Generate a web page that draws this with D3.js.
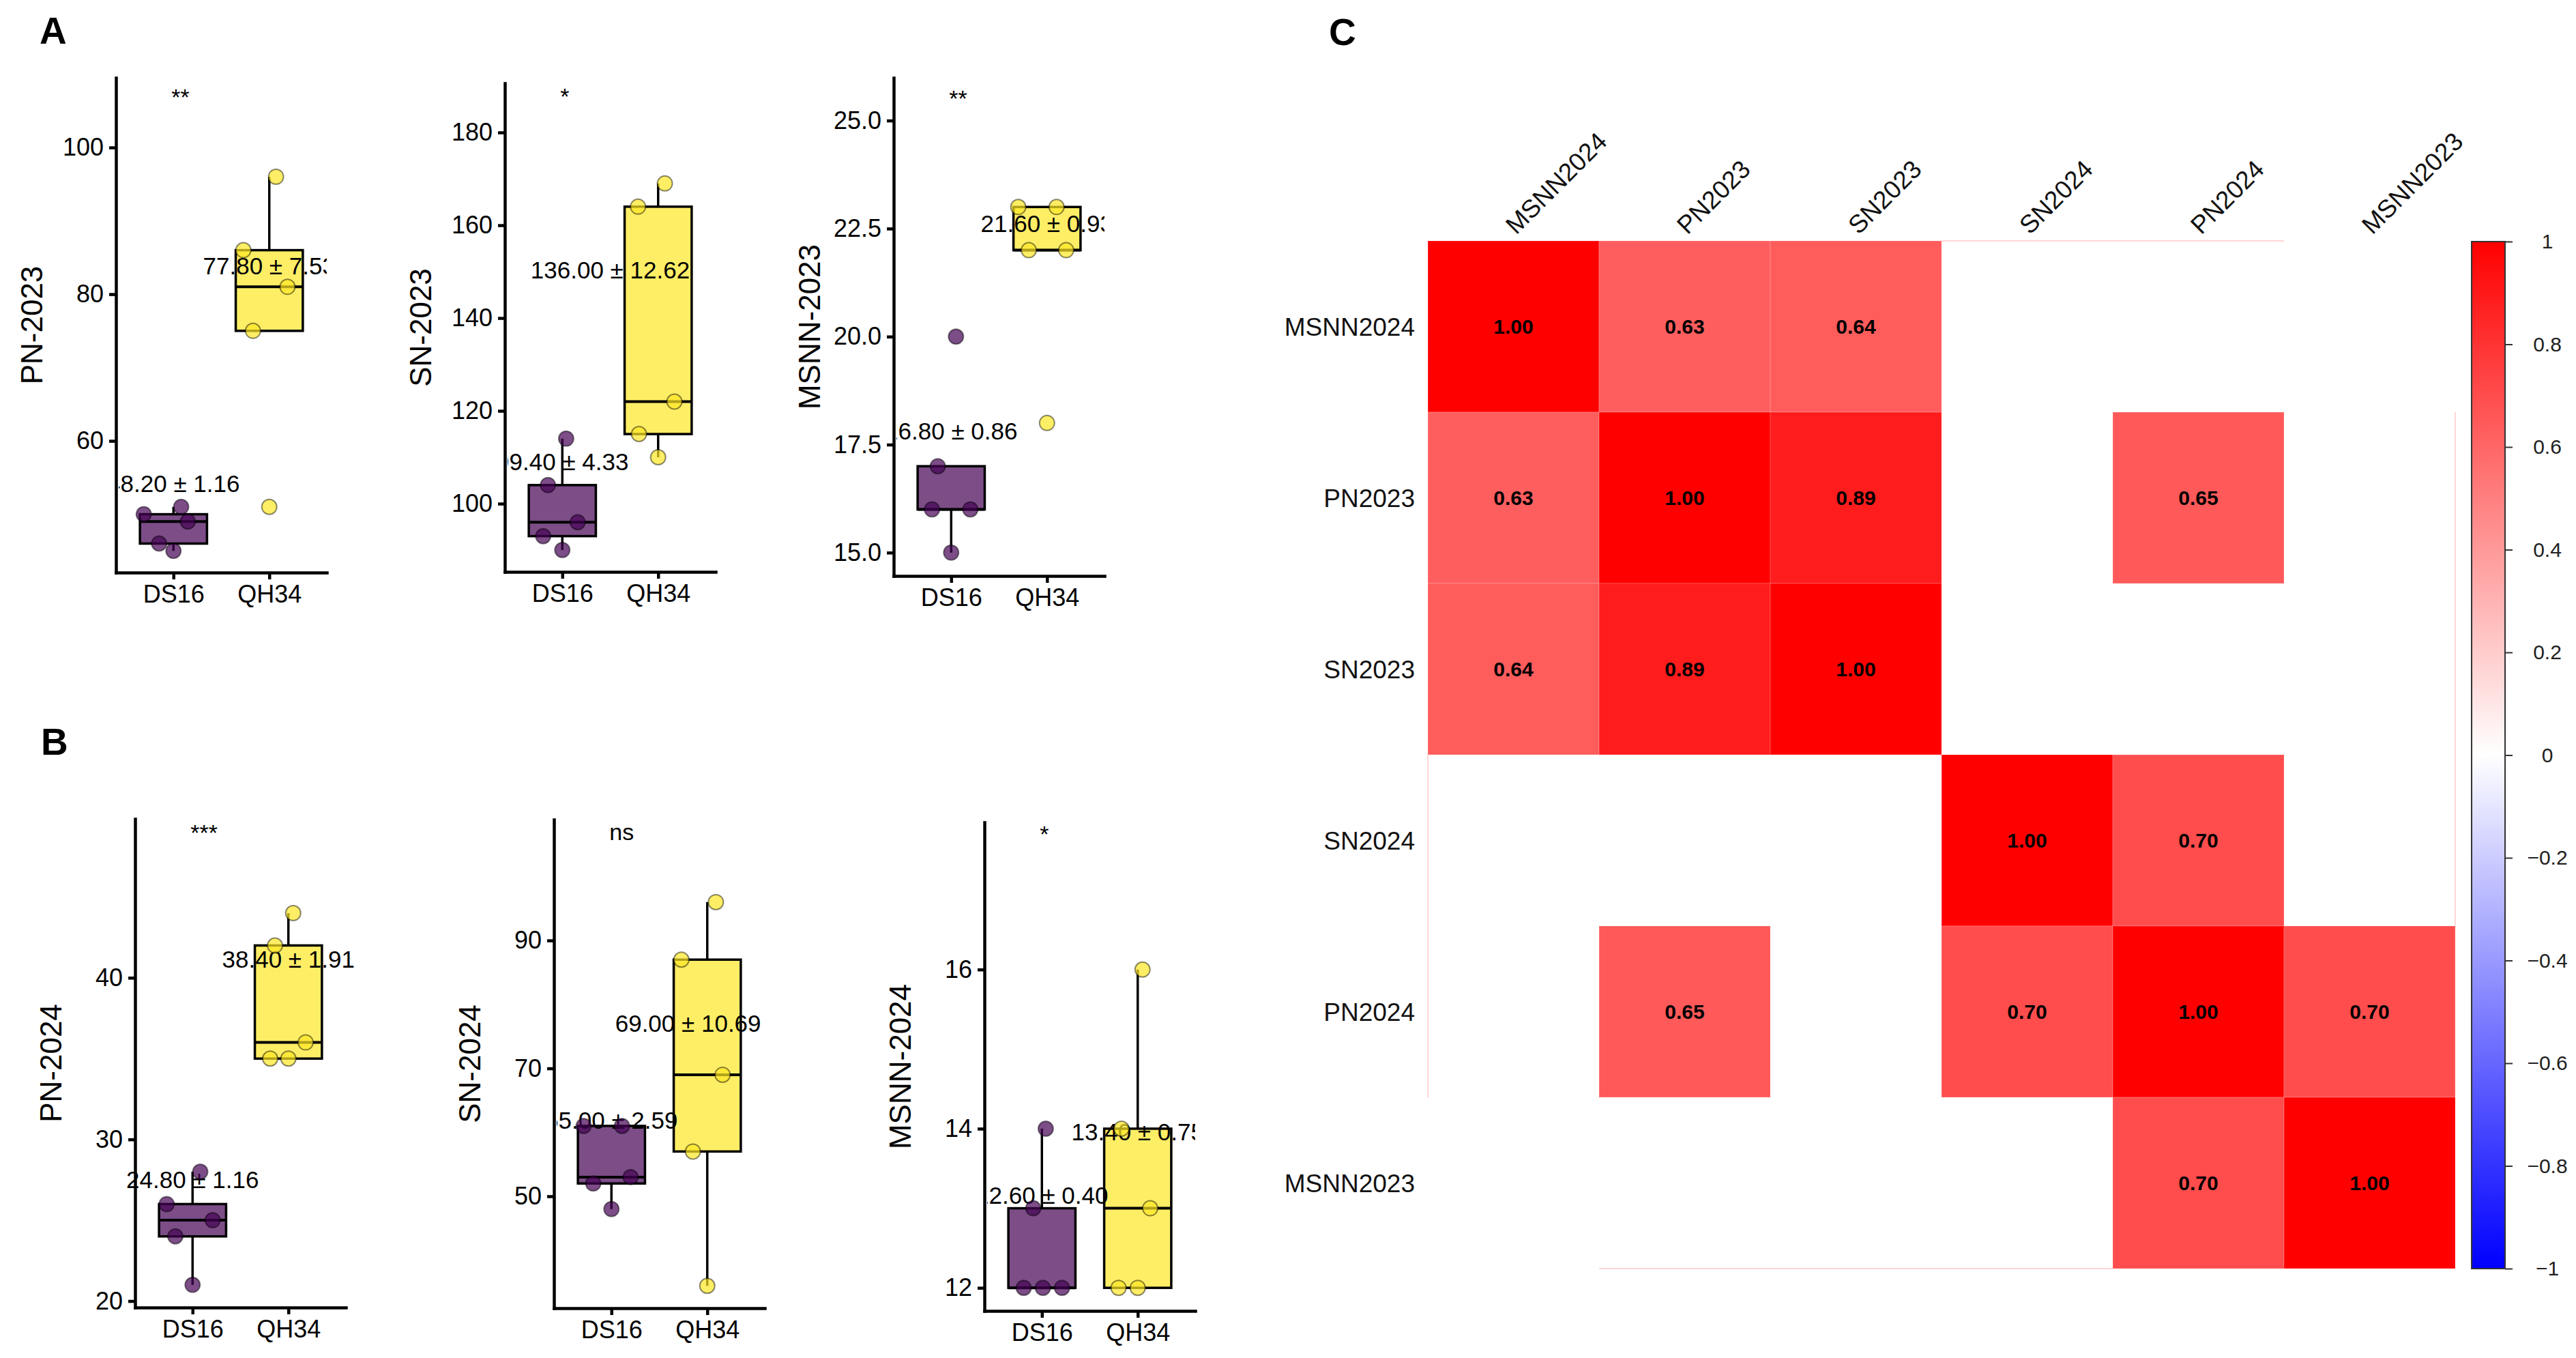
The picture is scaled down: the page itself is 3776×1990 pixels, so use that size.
<!DOCTYPE html>
<html lang="en">
<head>
<meta charset="utf-8">
<title>DS16 vs QH34 traits and correlation heatmap</title>
<style>
body { margin: 0; background: #fff; }
text { font-family: "Liberation Sans", Arial, sans-serif; }
</style>
</head>
<body>
<script src="https://cdn.jsdelivr.net/npm/d3@7"></script>
<script>
var W = 3776, H = 1990;

// ---- boxplot data (5 plants per line) ----
var groups = ["DS16", "QH34"];
var traits = ["PN-2023", "SN-2023", "MSNN-2023", "PN-2024", "SN-2024", "MSNN-2024"];
var ds16Values = [[50, 51, 49, 46, 45], [114, 104, 96, 93, 90], [17, 20, 16, 16, 15],
                  [28, 26, 25, 24, 21], [61, 61, 53, 52, 48], [14, 13, 12, 12, 12]];
var qh34Values = [[96, 86, 81, 75, 51], [169, 164, 122, 115, 110], [23, 23, 22, 22, 18],
                  [44, 42, 36, 35, 35], [96, 87, 69, 57, 36], [16, 14, 13, 12, 12]];
// jitter offsets of the points, in category steps
var ds16Jitter = [[-0.31, 0.08, 0.15, -0.15, 0], [0.04, -0.15, 0.16, -0.2, 0], [-0.14, 0.05, -0.2, 0.2, 0],
                  [0.08, -0.27, 0.21, -0.18, 0], [-0.29, 0.11, 0.2, -0.19, 0], [0.04, -0.09, -0.19, 0.01, 0.21]];
var qh34Jitter = [[0.07, -0.27, 0.19, -0.17, 0], [0.07, -0.21, 0.17, -0.2, 0], [-0.3, 0.1, -0.19, 0.2, 0],
                  [0.05, -0.14, 0.18, -0.19, 0], [0.09, -0.27, 0.16, -0.15, 0], [0.05, -0.17, 0.13, -0.2, 0]];
// where the "mean ± se" labels sit (y in data units, x shift in category steps)
var ds16LabelY = [53.05, 107.2, 17.62, 26.98, 60.6, 13.06];
var qh34LabelY = [82.7, 148.5, 22.42, 40.62, 75.76, 13.85];
var qh34LabelShift = [0, -0.5, 0, 0, -0.2, 0];
var signif = ["**", "*", "**", "***", "ns", "*"];
var signifY = [105.8, 186.0, 25.32, 48.5, 105.7, 17.6];
var yDomains = [[42.05, 109.5], [85.3, 190.6], [14.46, 25.99], [19.6, 49.83], [32.5, 108.9], [11.71, 17.85]];
var yTicks = [[60, 80, 100], [100, 120, 140, 160, 180], [15, 17.5, 20, 22.5, 25],
              [20, 30, 40], [50, 70, 90], [12, 14, 16]];

// ---- correlation heatmap (blank = not significant) ----
var corrVars = ["MSNN2024", "PN2023", "SN2023", "SN2024", "PN2024", "MSNN2023"];
var corrValues = [
    [1.00, 0.63, 0.64, null, null, null],
    [0.63, 1.00, 0.89, null, 0.65, null],
    [0.64, 0.89, 1.00, null, null, null],
    [null, null, null, 1.00, 0.70, null],
    [null, 0.65, null, 0.70, 1.00, 0.70],
    [null, null, null, null, 0.70, 1.00]
];
var legendTicks = [1, 0.8, 0.6, 0.4, 0.2, 0, -0.2, -0.4, -0.6, -0.8, -1];

var groupColors = ["#440154", "#FDE725"];

var svg = d3.select("body").append("svg")
    .attr("width", W).attr("height", H)
    .style("display", "block");
svg.append("rect").attr("width", W).attr("height", H).attr("fill", "#fff");
var defs = svg.append("defs");

// panel letters
svg.append("text").attr("x", 58).attr("y", 64).attr("font-size", 55).attr("font-weight", "bold").text("A");
svg.append("text").attr("x", 60).attr("y", 1106).attr("font-size", 55).attr("font-weight", "bold").text("B");
svg.append("text").attr("x", 1948).attr("y", 66).attr("font-size", 55).attr("font-weight", "bold").text("C");

// layout of the six small panels (axis corner positions); PN-2024 was not clipped
var panels = [
    {x0: 170, y0: 114, y1: 839, clip: true},
    {x0: 740, y0: 122, y1: 838, clip: true},
    {x0: 1310, y0: 114, y1: 844, clip: true},
    {x0: 198, y0: 1200, y1: 1916, clip: false},
    {x0: 812, y0: 1201, y1: 1917, clip: true},
    {x0: 1443, y0: 1205, y1: 1921, clip: true}
];
var panelW = 309;

traits.forEach(function(trait, i) {
    var p = panels[i];
    var x = d3.scalePoint().domain(groups).range([p.x0, p.x0 + panelW]).padding(0.6);
    var y = d3.scaleLinear().domain(yDomains[i]).range([p.y1, p.y0]);
    var step = x.step();
    var bw = step * 0.7;
    var sets = [ds16Values[i], qh34Values[i]];
    var jit = [ds16Jitter[i], qh34Jitter[i]];
    var labY = [ds16LabelY[i], qh34LabelY[i]];
    var labShift = [0, qh34LabelShift[i]];
    var g = svg.append("g");

    var cl = defs.append("clipPath").attr("id", "clip" + i).append("rect");
    if (p.clip) {
        cl.attr("x", p.x0 + 4).attr("y", p.y0 - 60).attr("width", panelW - 4).attr("height", p.y1 - p.y0 + 60);
    } else {
        cl.attr("x", p.x0 - 60).attr("y", p.y0 - 60).attr("width", panelW + 120).attr("height", p.y1 - p.y0 + 60);
    }

    // boxes
    sets.forEach(function(vals, k) {
        var s = vals.slice().sort(d3.ascending);
        var q1 = d3.quantile(s, 0.25), med = d3.quantile(s, 0.5), q3 = d3.quantile(s, 0.75);
        var iqr = q3 - q1;
        var lo = d3.min(s.filter(function(v) { return v >= q1 - 1.5 * iqr; }));
        var hi = d3.max(s.filter(function(v) { return v <= q3 + 1.5 * iqr; }));
        var cx = x(groups[k]);

        g.append("line").attr("x1", cx).attr("x2", cx).attr("y1", y(q3)).attr("y2", y(hi))
            .attr("stroke", "#000").attr("stroke-width", 3.5);
        g.append("line").attr("x1", cx).attr("x2", cx).attr("y1", y(q1)).attr("y2", y(lo))
            .attr("stroke", "#000").attr("stroke-width", 3.5);
        g.append("rect")
            .attr("x", cx - bw / 2).attr("y", y(q3))
            .attr("width", bw).attr("height", y(q1) - y(q3))
            .attr("fill", groupColors[k]).attr("fill-opacity", 0.7)
            .attr("stroke", "#000").attr("stroke-width", 3.5);
        g.append("line").attr("x1", cx - bw / 2).attr("x2", cx + bw / 2)
            .attr("y1", y(med)).attr("y2", y(med))
            .attr("stroke", "#000").attr("stroke-width", 4);
    });

    // mean ± se labels, clipped to the panel like ggplot does
    sets.forEach(function(vals, k) {
        var m = d3.mean(vals);
        var se = d3.deviation(vals) / Math.sqrt(vals.length);
        g.append("text")
            .attr("clip-path", "url(#clip" + i + ")")
            .attr("x", x(groups[k]) + labShift[k] * step).attr("y", y(labY[k]))
            .attr("text-anchor", "middle").attr("font-size", 35)
            .text(m.toFixed(2) + " ± " + se.toFixed(2));
    });

    // jittered points
    sets.forEach(function(vals, k) {
        g.selectAll(null).data(vals).enter().append("circle")
            .attr("cx", function(d, j) { return x(groups[k]) + jit[k][j] * step; })
            .attr("cy", function(d) { return y(d); })
            .attr("r", 11)
            .attr("fill", groupColors[k]).attr("fill-opacity", 0.7)
            .attr("stroke", "#000").attr("stroke-opacity", 0.45).attr("stroke-width", 2);
    });

    // significance
    g.append("text")
        .attr("x", x(groups[0]) - 3).attr("y", y(signifY[i]))
        .attr("font-size", 34).text(signif[i]);

    // axes
    var fmt = yTicks[i].some(function(v) { return v % 1 !== 0; }) ? d3.format(".1f") : d3.format("d");
    var ya = g.append("g").attr("transform", "translate(" + p.x0 + ",0)")
        .call(d3.axisLeft(y).tickValues(yTicks[i]).tickFormat(fmt).tickSize(10).tickSizeOuter(0).tickPadding(8));
    var xa = g.append("g").attr("transform", "translate(0," + p.y1 + ")")
        .call(d3.axisBottom(x).tickSize(10).tickSizeOuter(0).tickPadding(8));
    [ya, xa].forEach(function(a) {
        a.attr("font-size", 36).attr("font-family", "Liberation Sans, Arial, sans-serif").attr("color", "#000");
        a.selectAll("path, line").attr("stroke-width", 4.5);
        a.select(".domain").attr("stroke-linecap", "square");
    });

    g.append("text")
        .attr("transform", "translate(" + (p.x0 - 108) + "," + ((p.y0 + p.y1) / 2) + ") rotate(-90)")
        .attr("text-anchor", "middle").attr("font-size", 44)
        .text(trait);
});

// ---- heatmap ----
var hx = d3.scaleBand().domain(corrVars).range([2093, 3599]);
var hy = d3.scaleBand().domain(corrVars).range([353, 1859]);
var color = d3.scaleLinear().domain([-1, 0, 1]).range(["#0000FF", "#FFFFFF", "#FF0000"]);
var n = corrVars.length;

var cells = [];
corrValues.forEach(function(row, r) {
    row.forEach(function(v, c) { cells.push({r: r, c: c, v: v}); });
});

var hm = svg.append("g");
hm.selectAll("rect.cell").data(cells.filter(function(d) { return d.v !== null; }))
    .enter().append("rect").attr("class", "cell")
    .attr("x", function(d) { return hx(corrVars[d.c]); })
    .attr("y", function(d) { return hy(corrVars[d.r]); })
    .attr("width", hx.bandwidth()).attr("height", hy.bandwidth())
    .attr("fill", function(d) { return color(d.v); })
    .attr("stroke", "#fff").attr("stroke-opacity", 0.15).attr("stroke-width", 1.5);

// faint edges left by the blanked cells on the outer border
cells.filter(function(d) { return d.v === null; }).forEach(function(d) {
    var corner = (d.r === 0 || d.r === n - 1) && (d.c === 0 || d.c === n - 1);
    if (corner) return;
    var x0 = hx(corrVars[d.c]), y0 = hy(corrVars[d.r]), b = hx.bandwidth();
    var edges = [];
    if (d.r === 0) edges.push([x0, y0, x0 + b, y0]);
    if (d.r === n - 1) edges.push([x0, y0 + b, x0 + b, y0 + b]);
    if (d.c === 0) edges.push([x0, y0, x0, y0 + b]);
    if (d.c === n - 1) edges.push([x0 + b, y0, x0 + b, y0 + b]);
    edges.forEach(function(e) {
        hm.append("line").attr("x1", e[0]).attr("y1", e[1]).attr("x2", e[2]).attr("y2", e[3])
            .attr("stroke", "#ffd6d6").attr("stroke-width", 2);
    });
});

hm.selectAll("text.val").data(cells.filter(function(d) { return d.v !== null; }))
    .enter().append("text").attr("class", "val")
    .attr("x", function(d) { return hx(corrVars[d.c]) + hx.bandwidth() / 2; })
    .attr("y", function(d) { return hy(corrVars[d.r]) + hy.bandwidth() / 2; })
    .attr("dy", "0.36em").attr("text-anchor", "middle")
    .attr("font-size", 30).attr("font-weight", "bold")
    .text(function(d) { return d.v.toFixed(2); });

hm.selectAll("text.rowlab").data(corrVars).enter().append("text").attr("class", "rowlab")
    .attr("x", 2074).attr("y", function(d) { return hy(d) + hy.bandwidth() / 2; })
    .attr("dy", "0.36em").attr("text-anchor", "end").attr("font-size", 37).attr("fill", "#111")
    .text(function(d) { return d; });

hm.selectAll("text.collab").data(corrVars).enter().append("text").attr("class", "collab")
    .attr("transform", function(d) {
        return "translate(" + (hx(d) + hx.bandwidth() / 2 + 4) + "," + 345 + ") rotate(-45)";
    })
    .attr("font-size", 37).attr("fill", "#111")
    .text(function(d) { return d; });

// ---- colour bar ----
var grad = defs.append("linearGradient").attr("id", "cbar")
    .attr("x1", 0).attr("y1", 0).attr("x2", 0).attr("y2", 1);
grad.append("stop").attr("offset", "0%").attr("stop-color", "#FF0000");
grad.append("stop").attr("offset", "50%").attr("stop-color", "#FFFFFF");
grad.append("stop").attr("offset", "100%").attr("stop-color", "#0000FF");

var cy = d3.scaleLinear().domain([-1, 1]).range([1859, 354]);
svg.append("rect").attr("x", 3623).attr("y", cy(1)).attr("width", 49).attr("height", cy(-1) - cy(1))
    .attr("fill", "url(#cbar)").attr("stroke", "#333").attr("stroke-width", 2);

var ca = svg.append("g").attr("transform", "translate(3672,0)")
    .call(d3.axisRight(cy).tickValues(legendTicks).tickFormat(d3.format("")).tickSize(11).tickSizeOuter(0));
ca.select(".domain").remove();
ca.attr("color", "#333");
ca.selectAll("line").attr("stroke-width", 2);
ca.selectAll("text").attr("x", 62).attr("text-anchor", "middle")
    .attr("font-size", 30).attr("font-family", "Liberation Sans, Arial, sans-serif").attr("fill", "#222");
</script>
</body>
</html>
